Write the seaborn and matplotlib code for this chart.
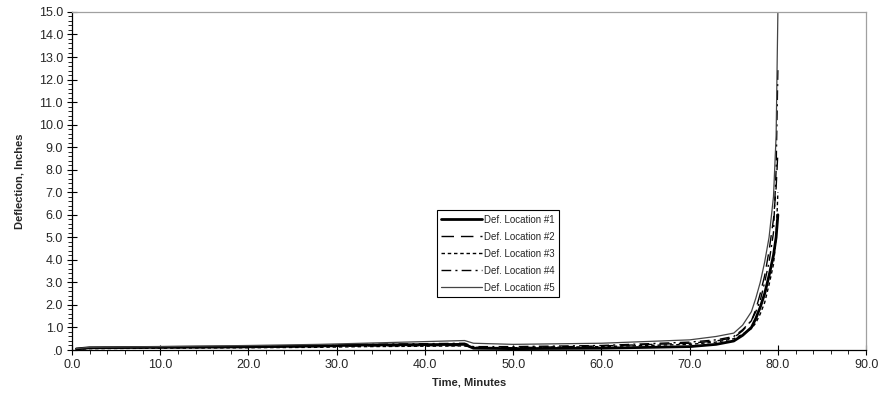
import matplotlib
matplotlib.use('Agg')
import matplotlib.pyplot as plt
import seaborn as sns
from matplotlib.ticker import MultipleLocator, FuncFormatter

# time points (minutes) shared by all gauges
time_min = [0.5, 2, 10, 20, 28, 33, 44.5, 45.5, 50, 60, 70, 73, 75, 76, 77,
            77.5, 78, 78.5, 79, 79.5, 79.8, 80.0]

loc1 = [0.05, 0.10, 0.12, 0.14, 0.18, 0.22, 0.25, 0.08, 0.06, 0.08, 0.15, 0.25,
        0.40, 0.65, 1.00, 1.40, 1.90, 2.50, 3.30, 4.20, 5.00, 6.00]
loc2 = [0.04, 0.08, 0.10, 0.12, 0.15, 0.18, 0.20, 0.10, 0.10, 0.18, 0.30, 0.40,
        0.55, 0.85, 1.30, 1.80, 2.50, 3.30, 4.40, 5.80, 7.20, 8.80]
loc3 = [0.03, 0.06, 0.08, 0.10, 0.12, 0.15, 0.18, 0.12, 0.10, 0.15, 0.25, 0.35,
        0.50, 0.70, 0.95, 1.20, 1.60, 2.10, 2.90, 3.80, 5.00, 7.00]
loc4 = [0.05, 0.10, 0.12, 0.15, 0.20, 0.25, 0.30, 0.15, 0.15, 0.20, 0.35, 0.45,
        0.60, 0.90, 1.30, 1.70, 2.20, 3.00, 3.90, 5.20, 8.00, 12.50]
loc5 = [0.06, 0.12, 0.15, 0.20, 0.25, 0.30, 0.42, 0.30, 0.25, 0.30, 0.45, 0.60,
        0.75, 1.10, 1.70, 2.30, 3.00, 3.90, 5.00, 6.80, 9.50, 15.00]

labels = ['Def. Location #1', 'Def. Location #2', 'Def. Location #3',
          'Def. Location #4', 'Def. Location #5']

sns.set_style('white')
plt.rcParams['font.family'] = ['Liberation Sans', 'DejaVu Sans']

fig = plt.figure(figsize=(8.82, 3.98), dpi=100)
ax = fig.add_axes([0.0816, 0.1206, 0.9004, 0.8494])

styles = [
    dict(color='black', lw=2.0, ls='-'),
    dict(color='black', lw=1.0, ls=(0, (9, 5))),
    dict(color='black', lw=1.0, ls=(0, (2.5, 2))),
    dict(color='black', lw=1.0, ls=(0, (7, 3, 1.5, 3))),
    dict(color='#444444', lw=0.9, ls='-'),
]
for vals, lab, st in zip([loc1, loc2, loc3, loc4, loc5], labels, styles):
    sns.lineplot(x=time_min, y=vals, ax=ax, label=lab, sort=False,
                 estimator=None, color=st['color'], linewidth=st['lw'],
                 linestyle=st['ls'])

ax.set_xlim(0, 90)
ax.set_ylim(0, 15)
ax.xaxis.set_major_locator(MultipleLocator(10))
ax.xaxis.set_minor_locator(MultipleLocator(2))
ax.yaxis.set_major_locator(MultipleLocator(1))
ax.yaxis.set_minor_locator(MultipleLocator(0.2))
ax.xaxis.set_major_formatter(FuncFormatter(lambda v, p: f'{v:.1f}'))
ax.yaxis.set_major_formatter(
    FuncFormatter(lambda v, p: '.0' if v == 0 else f'{v:.1f}'))

ax.tick_params(axis='both', which='major', direction='inout', length=7,
               width=0.8, labelsize=9, color='black', pad=3,
               bottom=True, left=True)
ax.tick_params(axis='both', which='minor', direction='out', length=3,
               width=0.6, color='black', bottom=True, left=True)

for side in ['left', 'bottom']:
    ax.spines[side].set_color('black')
    ax.spines[side].set_linewidth(0.9)
for side in ['top', 'right']:
    ax.spines[side].set_color('#a0a0a0')
    ax.spines[side].set_linewidth(0.9)

ax.set_xlabel('Time, Minutes', fontsize=8, fontweight='bold', labelpad=5)
ax.set_ylabel('Deflection, Inches', fontsize=8, fontweight='bold', labelpad=10)

leg = ax.legend(loc='lower left', bbox_to_anchor=(0.4597, 0.157), fontsize=7,
                frameon=True, fancybox=False, framealpha=1, borderpad=0.45,
                labelspacing=0.72, handlelength=4.2, handletextpad=0.15,
                borderaxespad=0)
leg.get_frame().set_edgecolor('black')
leg.get_frame().set_linewidth(0.8)

fig.savefig('out.png', dpi=100)
